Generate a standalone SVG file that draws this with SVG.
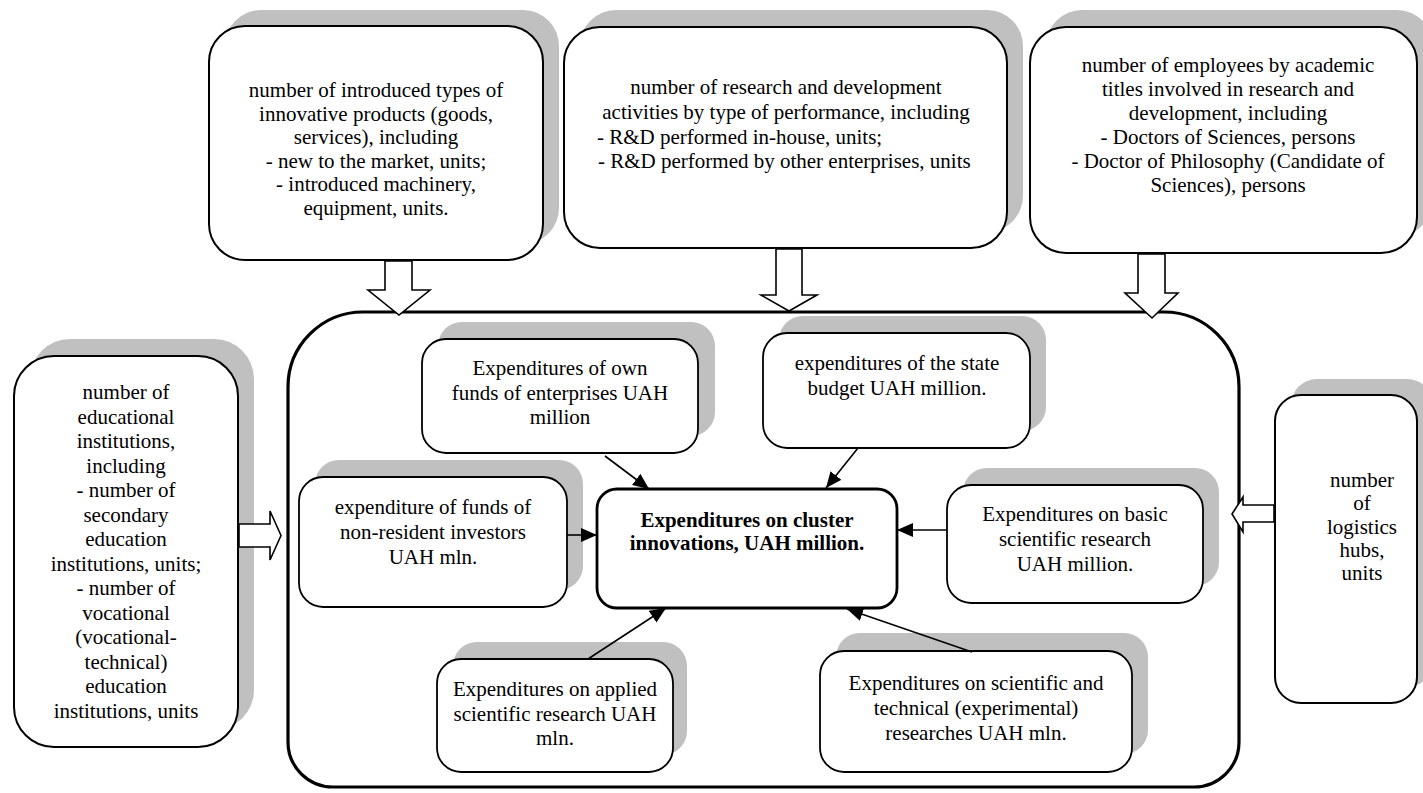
<svg xmlns="http://www.w3.org/2000/svg" width="1423" height="793" viewBox="0 0 1423 793">
<style>
  .sh { fill: #c0c0c0; stroke: none; }
  .bx { fill: #ffffff; stroke: #000000; stroke-width: 2; }
  .ib { fill: #ffffff; stroke: #000000; stroke-width: 1.8; }
  .cb { fill: #ffffff; stroke: #000000; stroke-width: 2.8; }
  .ct { fill: none; stroke: #000000; stroke-width: 3.2; }
  .ba { fill: #ffffff; stroke: #000000; stroke-width: 1.6; stroke-linejoin: miter; }
  .cn { fill: none; stroke: #000000; stroke-width: 1.6; marker-end: url(#ah); }
  text { font-family: "Liberation Serif", "Times New Roman", serif; font-size: 21px; fill: #000000; }
  .c { text-anchor: middle; }
  .b { font-weight: bold; }
</style>
<defs>
  <marker id="ah" markerUnits="userSpaceOnUse" markerWidth="16" markerHeight="14" refX="16" refY="7" orient="auto">
    <path d="M0,0 L16,7 L0,14 Z" fill="#000000"/>
  </marker>
</defs>
<rect width="1423" height="793" fill="#ffffff"/>

<g id="container">
  <path class="ct" d="M363,312 H1164 A75,75 0 0 1 1239,387 V742 A45,45 0 0 1 1194,787 H333 A45,45 0 0 1 288,742 V387 A75,75 0 0 1 363,312 Z"/>
</g>

<g id="node-innovative-products">
  <rect class="sh" x="225" y="10" width="334" height="234" rx="36"/>
  <rect class="bx" x="209" y="26" width="334" height="234" rx="36"/>
  <text class="c" x="376" y="97">number of introduced types of</text>
  <text class="c" x="376" y="121">innovative products (goods,</text>
  <text class="c" x="376" y="144">services), including</text>
  <text class="c" x="376" y="168">- new to the market, units;</text>
  <text class="c" x="376" y="191">- introduced machinery,</text>
  <text class="c" x="376" y="215">equipment, units.</text>
</g>

<g id="node-rd-activities">
  <rect class="sh" x="580" y="10" width="443" height="222" rx="36"/>
  <rect class="bx" x="564" y="27" width="443" height="221" rx="36"/>
  <text class="c" x="786" y="94">number of research and development</text>
  <text class="c" x="786" y="119">activities by type of performance, including</text>
  <text x="597" y="144">- R&amp;D performed in-house, units;</text>
  <text x="598" y="168">- R&amp;D performed by other enterprises, units</text>
</g>

<g id="node-employees">
  <rect class="sh" x="1046" y="10" width="387" height="226" rx="36"/>
  <rect class="bx" x="1030" y="27" width="387" height="226" rx="36"/>
  <text class="c" x="1228" y="72">number of employees by academic</text>
  <text class="c" x="1228" y="96">titles involved in research and</text>
  <text class="c" x="1228" y="120">development, including</text>
  <text class="c" x="1228" y="144">- Doctors of Sciences, persons</text>
  <text class="c" x="1228" y="168">- Doctor of Philosophy (Candidate of</text>
  <text class="c" x="1228" y="192">Sciences), persons</text>
</g>

<g id="node-educational">
  <rect class="sh" x="30" y="339" width="224" height="391" rx="40"/>
  <rect class="bx" x="14" y="356" width="224" height="391" rx="40"/>
  <text class="c" x="126" y="399">number of</text>
  <text class="c" x="126" y="423.5">educational</text>
  <text class="c" x="126" y="448">institutions,</text>
  <text class="c" x="126" y="472.5">including</text>
  <text class="c" x="126" y="497">- number of</text>
  <text class="c" x="126" y="521.5">secondary</text>
  <text class="c" x="126" y="546">education</text>
  <text class="c" x="126" y="570.5">institutions, units;</text>
  <text class="c" x="126" y="595">- number of</text>
  <text class="c" x="126" y="619.5">vocational</text>
  <text class="c" x="126" y="644">(vocational-</text>
  <text class="c" x="126" y="668.5">technical)</text>
  <text class="c" x="126" y="693">education</text>
  <text class="c" x="126" y="717.5">institutions, units</text>
</g>

<g id="node-logistics">
  <rect class="sh" x="1291" y="379" width="142" height="308" rx="26"/>
  <rect class="bx" x="1275" y="395" width="142" height="308" rx="26"/>
  <text class="c" x="1362" y="487">number</text>
  <text class="c" x="1362" y="510">of</text>
  <text class="c" x="1362" y="534">logistics</text>
  <text class="c" x="1362" y="557">hubs,</text>
  <text class="c" x="1362" y="580">units</text>
</g>

<g id="node-own-funds">
  <rect class="sh" x="438" y="322" width="277" height="114" rx="24"/>
  <rect class="ib" x="422" y="339" width="276" height="114" rx="24"/>
  <text class="c" x="560" y="375">Expenditures of own</text>
  <text class="c" x="560" y="400">funds of enterprises UAH</text>
  <text class="c" x="560" y="424">million</text>
</g>

<g id="node-state-budget">
  <rect class="sh" x="779" y="316" width="267" height="115" rx="24"/>
  <rect class="ib" x="763" y="333" width="267" height="115" rx="24"/>
  <text class="c" x="897" y="370">expenditures of the state</text>
  <text class="c" x="897" y="395">budget UAH million.</text>
</g>

<g id="node-non-resident">
  <rect class="sh" x="315" y="460" width="268" height="130" rx="24"/>
  <rect class="ib" x="299" y="477" width="268" height="130" rx="24"/>
  <text class="c" x="433" y="514">expenditure of funds of</text>
  <text class="c" x="433" y="539">non-resident investors</text>
  <text class="c" x="433" y="564">UAH mln.</text>
</g>

<g id="node-basic">
  <rect class="sh" x="963" y="468" width="256" height="118" rx="24"/>
  <rect class="ib" x="947" y="485" width="256" height="118" rx="24"/>
  <text class="c" x="1075" y="521">Expenditures on basic</text>
  <text class="c" x="1075" y="546">scientific research</text>
  <text class="c" x="1075" y="571">UAH million.</text>
</g>

<g id="node-applied">
  <rect class="sh" x="453" y="642" width="234" height="113" rx="24"/>
  <rect class="ib" x="437" y="659" width="236" height="113" rx="24"/>
  <text class="c" x="555" y="696">Expenditures on applied</text>
  <text class="c" x="555" y="721">scientific research UAH</text>
  <text class="c" x="555" y="745">mln.</text>
</g>

<g id="node-scientific-technical">
  <rect class="sh" x="836" y="633" width="312" height="121" rx="24"/>
  <rect class="ib" x="820" y="651" width="312" height="121" rx="24"/>
  <text class="c" x="976" y="690">Expenditures on scientific and</text>
  <text class="c" x="976" y="715">technical (experimental)</text>
  <text class="c" x="976" y="740">researches UAH mln.</text>
</g>

<g id="connectors">
  <line class="cn" x1="605" y1="456" x2="649" y2="489"/>
  <line class="cn" x1="858" y1="448" x2="826" y2="488"/>
  <line class="cn" x1="567" y1="535" x2="597" y2="535"/>
  <line class="cn" x1="947" y1="530" x2="897" y2="530"/>
  <line class="cn" x1="588" y1="659" x2="666" y2="608"/>
  <line class="cn" x1="972" y1="652" x2="847" y2="609"/>
  <path class="ba" d="M385,261 H412 V290 H430 L399,315 L368,290 H385 Z"/>
  <path class="ba" d="M776,249 H802 V295 H817 L789,311 L761,295 H776 Z"/>
  <path class="ba" d="M1138,254 H1165 V293 H1178 L1152,318 L1125,293 H1138 Z"/>
  <path class="ba" d="M239,524 V547 H270 V560 L281,535.5 L270,511 V524 Z"/>
  <path class="ba" d="M1274,505 V522 H1243 V532 L1232,514 L1243,497 V505 Z"/>
</g>

<g id="node-center">
  <rect class="cb" x="597" y="489" width="300" height="119" rx="20"/>
  <text class="c b" x="747" y="527">Expenditures on cluster</text>
  <text class="c b" x="747" y="550">innovations, UAH million.</text>
</g>
</svg>
